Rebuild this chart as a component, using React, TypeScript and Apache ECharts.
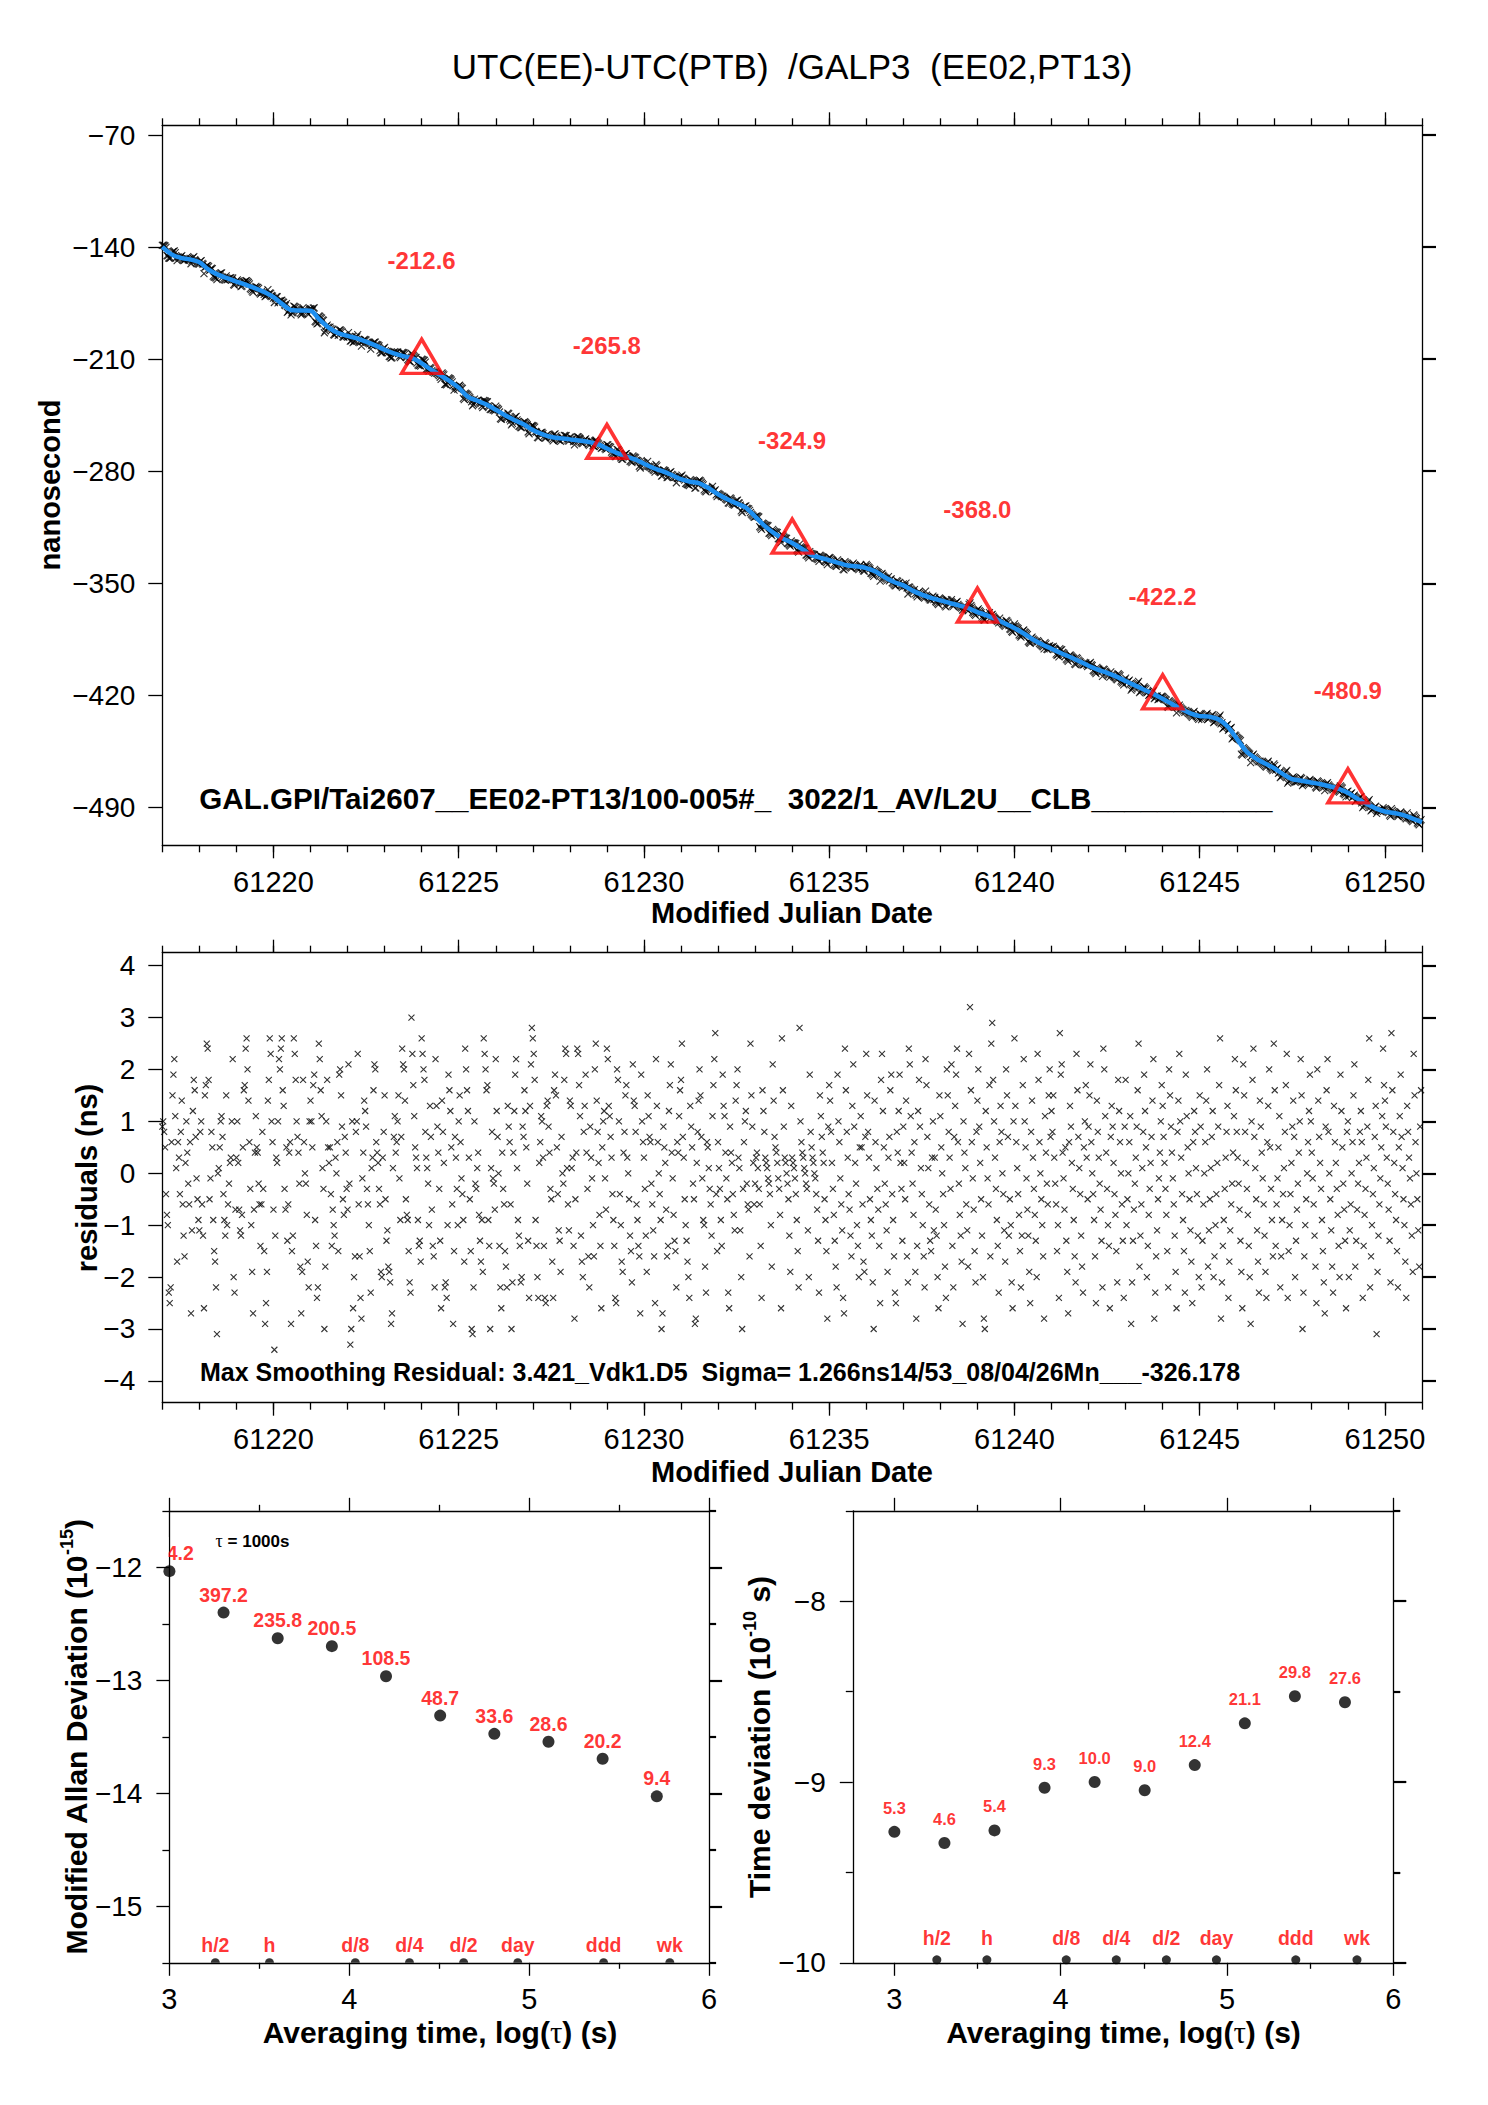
import React, { useEffect, useRef } from 'react';
import * as echarts from 'echarts';

const FONT = "'Liberation Sans', Arial, Helvetica, sans-serif";
const SERIF = "'Liberation Serif', 'DejaVu Serif', serif";

// ---------- Top panel: clock difference (ns) ----------
const MJD_START = 61217;
const MJD_END = 61251;
const SMOOTH_STEP = 0.25; // days between smoothed samples
const smoothNs = [
  -139.8, -144.5, -146.7, -147.7, -149.5, -154.0, -157.2, -159.4, -161.5, -163.5,
  -165.6, -168.0, -171.2, -175.8, -179.5, -179.6, -179.8, -185.5, -190.5, -193.7,
  -195.5, -197.0, -199.0, -201.4, -204.1, -206.4, -208.1, -209.4, -212.6, -216.5,
  -220.0, -223.6, -227.8, -233.6, -236.0, -238.3, -241.6, -245.0, -248.0, -250.7,
  -254.2, -256.8, -258.6, -259.4, -260.1, -260.8, -261.7, -263.1, -265.8, -268.4,
  -270.7, -272.5, -275.3, -278.0, -280.0, -282.4, -285.0, -286.6, -287.6, -290.6,
  -294.4, -297.5, -300.1, -302.8, -308.3, -314.0, -318.5, -322.0, -324.9, -328.3,
  -332.1, -334.0, -335.6, -337.3, -338.9, -339.5, -340.5, -342.7, -346.2, -349.2,
  -351.3, -354.6, -357.1, -359.1, -360.7, -362.3, -363.8, -365.5, -368.0, -370.0,
  -372.4, -375.2, -378.0, -381.4, -385.1, -388.2, -390.9, -393.6, -396.1, -398.7,
  -401.5, -404.0, -406.0, -408.3, -411.1, -413.8, -416.5, -419.2, -422.2, -425.4,
  -428.4, -431.3, -433.0, -433.3, -435.0, -439.5, -447.0, -454.8, -459.2, -462.5,
  -465.4, -469.2, -472.4, -473.4, -474.5, -475.4, -476.8, -478.5, -480.9, -484.5,
  -487.8, -490.6, -492.6, -493.5, -494.8, -497.0, -499.2,
];
const triangleMjd = [61224, 61229, 61234, 61239, 61244, 61249];
const triangleNs = [-212.6, -265.8, -324.9, -368.0, -422.2, -480.9];
const topYTicks = [-490, -420, -350, -280, -210, -140, -70];
const mjdLabelTicks = [61220, 61225, 61230, 61235, 61240, 61245, 61250];

// ---------- Residuals (ns), 40 samples per day ----------
const RES_PER_DAY = 40;
const res17to21 = [
  0.9,1.0,0.8,0.5,-0.4,-0.8,-1.0,-2.3,-2.5,-2.2,0.6,1.5,1.9,2.2,1.1,0.1,-1.7,0.6,0.3,-0.4,
  0.8,1.4,-0.6,-1.2,-1.6,0.2,1.0,0.4,-0.2,-0.6,0.6,-2.7,-1.1,1.2,1.8,1.6,0.7,-0.1,-0.5,-0.9,
  -1.1,0.8,1.0,-0.6,-1.2,-2.6,1.5,1.7,2.5,2.4,1.8,-0.5,-0.1,0.8,0.5,-0.9,-1.5,-1.7,-2.2,-3.1,
  0.0,0.1,0.5,1.0,1.1,0.7,-0.4,-0.9,-1.2,1.5,-1.0,-0.6,-0.2,0.2,0.3,1.0,2.2,-2.0,-2.3,-0.7,
  0.3,1.0,0.2,-0.7,-1.1,-1.2,-0.8,0.5,1.6,1.7,2.4,2.6,2.0,1.4,0.6,-0.3,-1.0,-1.9,-2.7,-0.7,
  0.4,1.1,0.5,0.4,-0.2,-0.6,-1.4,-0.6,0.8,-0.3,-1.5,-2.9,-2.5,-1.9,1.4,1.8,2.6,2.3,1.0,0.6,
  -0.7,-3.4,-1.2,0.3,0.2,1.0,2.2,2.0,2.4,2.6,1.6,1.3,-0.3,-0.7,0.5,-1.3,-0.6,0.4,0.6,-2.9,
  -1.5,-1.2,2.6,2.3,1.8,1.0,0.7,0.4,-0.2,-1.8,-2.7,-1.9,1.8,0.6,0.0,-0.2,-0.8,-1.7,-2.2,1.0,
  1.4,1.0,0.5,1.7,1.9,-0.9,-1.4,-2.4,-2.2,2.5,2.2,1.6,1.1,0.1,-0.3,-3.0,-1.8,1.0,1.8,0.5,
  0.2,0.5,-0.4,-1.4,-0.7,-1.0,-1.2,0.3,0.0,0.6,-1.5,1.9,2.0,1.5,0.9,-0.5,-0.8,0.7,0.4,-0.3,
];
const res22to26 = [
  -0.7,2.1,-0.2,-3.3,-3.0,1.0,-2.6,-2.0,-1.6,0.8,1.0,2.3,-0.6,-1.6,-2.4,-2.8,-0.1,0.4,1.4,1.2,
  0.9,-0.3,-0.6,-1.0,-1.5,-2.3,0.1,0.3,1.6,2.1,2.0,0.6,0.4,0.2,-0.3,-0.6,-1.9,-2.0,0.3,0.8,
  1.5,-0.5,-1.3,-1.1,-1.8,-1.9,-2.1,-2.9,-2.7,0.1,0.7,1.1,0.4,0.6,1.0,1.5,-0.1,-0.9,0.7,2.4,
  2.1,2.0,1.4,-0.5,-0.8,-0.9,-1.5,-2.1,-2.3,3.0,2.3,1.7,1.1,0.5,0.3,0.1,-0.9,-1.4,-1.3,-1.7,
  2.6,2.3,2.0,1.8,0.8,0.3,0.1,-0.2,-1.0,1.3,0.7,-0.7,-1.4,-1.6,-2.2,2.2,1.3,0.9,0.4,-0.3,
  -1.3,-2.6,1.4,0.8,0.2,-2.2,-2.1,-2.4,-1.0,1.9,1.6,1.2,0.5,-0.6,-2.9,-1.5,0.7,0.3,-0.3,-1.0,
  1.0,1.5,0.6,-0.1,-0.4,-0.9,-1.7,2.4,2.0,1.6,1.2,0.3,-0.5,-1.5,-3.0,-3.1,-2.2,1.0,-0.2,-0.3,
  0.1,0.4,-0.8,-1.3,-1.7,-0.9,-1.9,2.6,2.3,2.0,1.6,1.7,-0.9,-1.4,-3.0,0.1,0.8,-0.1,-0.2,-0.7,
  2.2,1.2,0.7,0.0,-1.4,-2.2,-2.6,0.4,-0.3,-0.6,-1.5,-1.8,-2.2,1.3,0.9,0.6,-0.6,-3.0,-2.1,0.4,
  1.2,1.9,2.2,0.1,-0.9,-1.2,-1.4,-2.1,-2.0,0.9,0.7,1.6,1.2,0.5,-0.2,-1.3,-2.4,1.3,2.1,2.8,
];
const res27to31 = [
  2.6,2.3,1.8,-0.9,-1.4,-2.0,-2.4,0.2,0.6,1.1,1.0,0.3,-1.4,-2.4,-2.5,1.3,1.4,0.9,0.4,-0.3,
  -0.5,-1.7,-2.4,1.6,1.9,1.5,0.5,-0.4,-1.1,-1.3,-1.9,0.7,0.0,-0.2,1.8,2.4,2.3,0.1,-0.6,-1.1,
  1.4,1.3,0.1,0.3,-1.4,-2.8,-0.5,0.4,2.4,2.3,1.7,1.1,-1.2,-1.7,-2.0,0.8,1.3,1.9,0.4,-0.3,
  -1.6,-2.2,0.9,0.3,-0.1,-1.0,-1.6,2.0,2.5,1.4,0.8,0.2,-0.8,-1.4,-2.6,0.5,1.0,1.2,-0.1,-0.7,
  2.4,2.2,1.3,1.1,0.7,0.3,-0.4,-0.9,-1.4,-2.4,-2.5,2.0,1.8,1.0,-0.4,-1.0,-1.7,-1.9,0.4,0.8,
  1.5,1.7,0.3,0.0,-0.5,-1.2,-1.5,-2.1,2.1,1.4,1.3,0.8,-0.6,-0.9,-1.4,-1.6,-2.7,1.9,1.0,0.6,
  0.3,-0.3,-1.2,-1.9,1.5,1.1,0.7,0.6,-0.2,-0.6,-1.1,-1.6,-2.5,2.2,1.3,0.6,0.0,-0.4,-0.9,-3.0,
  -2.7,0.9,0.5,0.2,-0.7,-1.6,-1.4,1.2,1.7,2.1,0.4,-0.1,-0.8,-1.3,-1.5,-2.2,0.6,0.4,1.1,1.6,
  1.8,2.5,0.7,0.3,-0.5,-1.0,-1.3,-1.7,-2.0,-2.4,1.3,0.9,0.5,-0.2,-0.5,-2.9,-2.8,0.2,0.8,1.4,
  2.0,1.5,0.7,-0.1,-0.9,-1.0,-1.8,-2.3,0.6,0.5,0.1,-0.3,-0.6,-1.2,1.1,1.7,2.2,2.7,-0.4,-1.5,
];
const res32to36 = [
  0.6,0.1,-0.3,-0.9,-1.4,1.9,1.3,1.1,0.4,-0.1,-0.5,-2.3,-2.6,0.9,0.4,0.2,-0.4,-0.8,-1.1,1.4,
  1.7,2.0,0.3,0.1,-1.1,-2.0,-3.0,-0.3,0.6,1.0,1.2,-0.2,-0.6,-0.7,-1.6,2.5,1.5,0.9,0.2,-0.6,
  -0.2,0.3,0.4,0.1,-0.3,-0.6,-1.4,-2.4,1.6,1.2,0.8,0.3,0.2,0.1,-0.1,-0.2,-0.4,-1.0,-1.8,2.1,
  1.4,0.7,0.5,0.4,0.2,-0.1,-0.3,-0.8,-2.6,2.6,1.6,0.9,0.3,0.2,0.0,-0.2,-0.5,-1.2,-1.9,1.3,
  0.3,0.2,0.1,-0.1,-0.4,-0.9,-1.5,-2.2,2.8,1.0,0.6,0.4,0.3,0.1,0.0,-0.2,-0.3,-1.1,-2.0,1.9,
  0.8,0.5,0.3,0.2,0.0,-0.1,-0.4,-0.7,-1.3,-2.3,1.5,1.1,0.7,0.4,0.2,-0.5,-0.9,-1.5,-2.8,0.9,
  1.7,1.4,0.8,0.2,-0.3,-0.8,-1.3,-1.8,-2.2,1.9,1.0,0.6,-0.1,-0.6,-1.1,-2.4,-2.7,2.4,1.6,0.8,
  0.3,-0.4,-0.7,-1.2,-1.6,1.3,2.1,0.9,0.2,-0.2,-1.0,-1.4,-2.0,0.5,1.1,0.5,-0.6,-1.7,-1.9,0.7,
  2.3,1.5,0.8,0.3,-0.5,-0.9,-1.2,-2.1,-3.0,1.4,0.6,0.1,-0.3,-0.7,-1.4,-2.5,1.8,2.3,1.2,0.5,
  -0.2,-0.6,-1.1,-1.9,0.3,0.7,1.6,1.9,-0.4,-0.9,-1.6,-2.3,-2.5,0.8,0.4,1.2,1.9,0.2,-0.3,-1.3,
];
const res37to41 = [
  0.9,0.2,-0.5,1.4,-1.6,-2.1,2.4,2.1,1.1,0.4,-0.2,-0.8,0.6,-1.9,-2.8,-1.4,1.2,1.8,0.9,0.1,
  -0.4,-1.0,-1.6,-2.2,2.2,1.7,0.7,0.1,-0.6,-1.3,-1.5,0.3,1.0,-1.1,0.3,-0.7,-1.2,-2.0,-2.6,1.5,
  1.1,0.5,0.0,-0.4,-1.0,-1.8,-2.4,2.0,1.5,0.8,0.3,-0.3,2.1,-1.4,-2.2,0.7,1.3,1.9,2.4,0.6,
  -0.2,-0.8,-1.2,-1.7,-2.9,1.0,0.4,0.1,-0.6,-1.1,-1.8,2.3,3.2,1.6,0.6,-0.1,-0.7,-1.5,-2.1,0.8,
  1.4,2.0,0.9,0.2,-0.5,-1.2,-2.0,-2.8,-3.0,1.2,0.5,-0.1,-0.6,1.7,-1.6,2.5,2.9,1.8,1.0,0.3,
  -0.3,-0.9,-1.4,-2.3,0.6,1.3,0.8,0.0,-0.4,-1.1,-1.7,2.0,1.5,0.7,-1.2,-0.5,-1.0,-2.1,-2.6,1.0,
  2.6,1.3,0.6,0.1,-0.4,-0.8,-1.5,-2.2,-1.2,1.7,2.2,1.0,0.5,-0.1,-0.7,-1.2,-1.9,-2.5,0.8,1.4,
  0.3,-0.3,-0.8,-1.3,-2.0,2.3,1.8,0.6,0.0,-0.5,-1.0,-1.6,-2.8,1.1,0.4,-0.2,-0.6,1.5,2.0,0.7,
  1.2,0.8,1.5,0.3,-0.2,-0.6,-1.5,-1.0,-2.4,2.7,1.9,2.1,0.4,-0.1,-0.7,0.5,-1.3,-1.9,-2.7,0.6,
  1.3,0.9,0.2,-0.3,-0.9,-1.6,-2.1,2.3,1.6,0.7,0.1,-0.4,-1.2,-1.8,-2.3,0.5,1.0,1.7,0.3,-0.5,
];
const res42to46 = [
  0.9,1.5,2.1,0.6,0.0,-0.4,-0.9,-1.6,-2.5,1.4,0.8,0.3,-0.2,-0.7,-1.3,-2.2,2.4,2.0,1.1,0.4,
  -0.3,-1.0,-1.4,-2.6,0.7,1.3,0.9,0.2,-0.4,-0.8,-1.5,-2.1,1.8,1.2,0.6,0.0,-0.6,-1.3,-2.4,0.9,
  1.8,-1.0,-0.5,0.0,0.6,1.1,-2.9,-2.1,-1.3,-0.7,-0.2,0.3,0.9,1.6,2.5,-1.8,-1.2,-0.6,0.1,0.8,
  1.9,1.2,0.5,-2.0,-1.4,-0.8,-0.3,0.2,0.7,1.4,2.2,-2.8,-2.3,-1.6,-1.1,-0.5,-0.1,0.4,1.0,1.7,
  1.3,0.7,0.2,-0.3,-0.8,-1.5,-2.2,2.0,1.5,0.9,0.4,-0.1,-0.6,-1.2,-1.9,-2.6,0.8,1.4,2.3,1.0,
  0.3,-0.4,-0.9,-1.5,-2.3,1.9,1.1,0.5,0.0,-0.5,-1.1,-1.7,-2.5,0.6,1.2,0.8,0.1,-0.4,-1.2,-2.0,
  1.5,0.9,-2.2,-1.3,-0.6,0.0,0.6,1.4,2.0,-1.8,-1.1,-0.5,0.1,0.7,1.2,-2.0,-1.6,-1.0,-0.4,0.2,
  0.9,1.7,2.6,-2.8,-2.1,-1.4,-0.9,-0.3,0.3,0.8,1.3,-2.4,-1.7,-1.1,-0.6,-0.2,0.4,1.1,2.2,1.6,
  0.8,0.3,-0.2,-0.7,-1.3,-1.9,-2.6,2.1,1.5,0.8,0.2,-0.3,-0.8,-1.4,-2.0,-2.9,1.0,1.8,2.4,0.7,
  0.1,-0.5,-1.1,-1.7,-2.3,1.4,0.9,0.4,-0.1,-0.6,-1.2,-1.9,-2.4,0.6,1.3,2.0,0.5,-0.3,-0.9,-1.6,
];
const res47to50 = [
  2.5,1.6,-1.4,-0.6,-0.1,0.5,1.1,-2.2,-1.6,-0.9,-0.4,0.1,0.8,1.7,2.3,-2.4,-1.5,-1.0,-0.4,0.2,
  0.9,1.4,0.7,-2.0,-1.3,-0.7,-0.2,0.4,1.0,2.2,1.5,-3.0,-2.3,-1.6,-1.0,-0.5,0.0,0.6,1.2,1.9,
  1.0,0.4,-0.1,-0.6,-1.2,-1.8,-2.5,2.0,1.4,0.7,0.2,-0.3,-0.9,-1.5,-2.1,-2.7,0.9,1.6,2.2,0.8,
  0.0,-0.5,-1.1,-1.8,-2.3,1.3,0.6,0.2,-0.3,-0.8,-1.4,-2.0,1.9,1.2,0.5,-0.2,-0.7,-1.3,-2.6,0.8,
  1.0,-2.0,-1.1,-0.6,0.0,0.6,1.5,2.1,-1.8,-1.3,-0.7,-0.2,0.2,0.8,1.2,0.6,-2.4,-1.4,-0.8,-0.3,
  0.3,0.9,1.8,2.6,-2.2,-1.6,-1.0,-0.4,0.1,0.7,1.3,-3.1,-1.9,-1.2,-0.6,-0.1,0.5,1.1,2.4,1.7,
  1.4,0.9,0.3,-0.2,-0.7,-1.3,-2.1,2.7,1.6,0.8,0.2,-0.4,-0.9,-1.5,-2.2,0.5,1.1,1.9,0.7,0.1,
  -0.5,-1.0,-1.7,-2.4,1.3,0.8,0.3,-0.1,-0.6,-1.2,-1.9,2.3,1.5,0.6,0.0,-0.5,-1.1,-1.8,0.9,1.6,
];
const resYTicks = [-4, -3, -2, -1, 0, 1, 2, 3, 4];

// ---------- Stability panels ----------
const tauSeconds = [1000, 2000, 4000, 8000, 16000, 32000, 64000, 128000, 256000, 512000];
const mdevE15 = [924.2, 397.2, 235.8, 200.5, 108.5, 48.7, 33.6, 28.6, 20.2, 9.4];
const tdevE10 = [5.3, 4.6, 5.4, 9.3, 10.0, 9.0, 12.4, 21.1, 29.8, 27.6];
const markerNames = ['h/2', 'h', 'd/8', 'd/4', 'd/2', 'day', 'ddd', 'wk'];
const markerSeconds = [1800, 3600, 10800, 21600, 43200, 86400, 259200, 604800];
const tauMajorTicks = [3, 4, 5, 6];
const tauMinorTicks = [3.5, 4.5, 5.5];
const mdevMajorTicks = [-15, -14, -13, -12];
const mdevMinorTicks = [-15.5, -14.5, -13.5, -12.5, -11.5];
const tdevMajorTicks = [-10, -9, -8];
const tdevMinorTicks = [-9.5, -8.5, -7.5];

const TITLE = 'UTC(EE)-UTC(PTB)  /GALP3  (EE02,PT13)';
const TOP_NOTE = 'GAL.GPI/Tai2607__EE02-PT13/100-005#_  3022/1_AV/L2U__CLB___________';
const MID_NOTE = 'Max Smoothing Residual: 3.421_Vdk1.D5  Sigma= 1.266ns14/53_08/04/26Mn___-326.178';

const X_SYMBOL = 'path://M0,0L10,10M0,10L10,0';
const HALF_DOT = 'path://M0,10A10,10,0,0,1,20,10Z';
const RED = '#ff0000';
const BLUE = '#1e8ff0';

function fmtMinus(v: number): string {
  return v < 0 ? '\u2212' + String(Math.abs(v)) : String(v);
}

type Panel = {
  grid: { left: number; top: number; width: number; height: number };
  xmin: number; xmax: number; xMajor: number[]; xMinor: number[];
  ymin: number; ymax: number; yMajor: number[]; yMinor: number[];
  xMinorLen: number; yMajorLen: number; yMinorLen: number;
};

function buildAxes(p: Panel, gi: number) {
  const line = { color: '#000', width: 1.3 };
  const thick = { color: '#000', width: 2.2 };
  const xb = { type: 'value', min: p.xmin, max: p.xmax, splitLine: { show: false } };
  const yb = { type: 'value', min: p.ymin, max: p.ymax, splitLine: { show: false } };
  const xs = [
    { ...xb, gridIndex: gi, position: 'bottom',
      axisLine: { show: true, onZero: false, lineStyle: line },
      axisTick: { show: true, customValues: p.xMajor, length: 13, lineStyle: line },
      axisLabel: { show: true, customValues: p.xMajor, formatter: (v: number) => String(v),
        fontSize: 29, margin: 22, color: '#000', fontFamily: FONT } },
    { ...xb, gridIndex: gi, position: 'top',
      axisLine: { show: true, onZero: false, lineStyle: line },
      axisTick: { show: true, customValues: p.xMajor, length: 13, lineStyle: line },
      axisLabel: { show: false } },
    { ...xb, gridIndex: gi + 1, position: 'bottom',
      axisLine: { show: false, onZero: false },
      axisTick: { show: true, customValues: p.xMinor, length: p.xMinorLen, lineStyle: line },
      axisLabel: { show: false } },
    { ...xb, gridIndex: gi + 1, position: 'top',
      axisLine: { show: false, onZero: false },
      axisTick: { show: true, customValues: p.xMinor, length: p.xMinorLen, lineStyle: line },
      axisLabel: { show: false } },
  ];
  const ys = [
    { ...yb, gridIndex: gi, position: 'left',
      axisLine: { show: true, onZero: false, lineStyle: line },
      axisTick: { show: true, customValues: p.yMajor, length: p.yMajorLen, lineStyle: line },
      axisLabel: { show: true, customValues: p.yMajor, formatter: fmtMinus,
        fontSize: 28, margin: 27, color: '#000', fontFamily: FONT } },
    { ...yb, gridIndex: gi, position: 'right',
      axisLine: { show: true, onZero: false, lineStyle: line },
      axisTick: { show: true, customValues: p.yMajor, length: p.yMajorLen, lineStyle: thick },
      axisLabel: { show: false } },
    { ...yb, gridIndex: gi + 1, position: 'left',
      axisLine: { show: false, onZero: false },
      axisTick: { show: p.yMinor.length > 0, customValues: p.yMinor, length: p.yMinorLen, lineStyle: line },
      axisLabel: { show: false } },
    { ...yb, gridIndex: gi + 1, position: 'right',
      axisLine: { show: false, onZero: false },
      axisTick: { show: p.yMinor.length > 0, customValues: p.yMinor, length: p.yMinorLen, lineStyle: thick },
      axisLabel: { show: false } },
  ];
  return { xs, ys };
}

function dayTicks(): number[] {
  const out: number[] = [];
  for (let d = MJD_START; d <= MJD_END; d++) out.push(d);
  return out;
}

function buildOption() {
  const residuals = [...res17to21, ...res22to26, ...res27to31, ...res32to36, ...res37to41, ...res42to46, ...res47to50];
  const resData = residuals.map((r, j) => [MJD_START + j / RES_PER_DAY, r]);
  const rawTop = residuals.map((r, j) => {
    const t = MJD_START + j / RES_PER_DAY;
    const k = Math.min(smoothNs.length - 1, Math.round((t - MJD_START) / SMOOTH_STEP));
    return [t, smoothNs[k] + r];
  });
  const smoothData = smoothNs.map((v, i) => [MJD_START + i * SMOOTH_STEP, v]);
  const triData = triangleMjd.map((m, i) => [m, triangleNs[i]]);

  const panels: Panel[] = [
    { grid: { left: 162.3, top: 125.3, width: 1259.7, height: 720 },
      xmin: MJD_START, xmax: MJD_END, xMajor: mjdLabelTicks, xMinor: dayTicks(),
      ymin: -513.7, ymax: -63.9, yMajor: topYTicks, yMinor: [],
      xMinorLen: 7, yMajorLen: 14, yMinorLen: 7 },
    { grid: { left: 162.3, top: 952.7, width: 1259.7, height: 450 },
      xmin: MJD_START, xmax: MJD_END, xMajor: mjdLabelTicks, xMinor: dayTicks(),
      ymin: -4.42, ymax: 4.25, yMajor: resYTicks, yMinor: [],
      xMinorLen: 7, yMajorLen: 14, yMinorLen: 7 },
    { grid: { left: 169.4, top: 1510.8, width: 539.7, height: 452 },
      xmin: 3, xmax: 6, xMajor: tauMajorTicks, xMinor: tauMinorTicks,
      ymin: -15.5, ymax: -11.5, yMajor: mdevMajorTicks, yMinor: mdevMinorTicks,
      xMinorLen: 6, yMajorLen: 13, yMinorLen: 7 },
    { grid: { left: 852.8, top: 1510.8, width: 540.5, height: 452 },
      xmin: 2.75, xmax: 6, xMajor: tauMajorTicks, xMinor: tauMinorTicks,
      ymin: -10, ymax: -7.5, yMajor: tdevMajorTicks, yMinor: tdevMinorTicks,
      xMinorLen: 6, yMajorLen: 13, yMinorLen: 7 },
  ];

  const grids: any[] = [];
  const xAxes: any[] = [];
  const yAxes: any[] = [];
  panels.forEach((p, i) => {
    grids.push({ ...p.grid, show: false, containLabel: false });
    grids.push({ ...p.grid, show: false, containLabel: false });
    const { xs, ys } = buildAxes(p, 2 * i);
    xAxes.push(...xs);
    yAxes.push(...ys);
  });

  const xStroke = { color: 'rgba(0,0,0,0)', borderColor: '#000', borderWidth: 1.1 };
  const redBold = (size: number) => ({ color: RED, fontWeight: 'bold', fontSize: size, fontFamily: FONT });

  const mdevData = tauSeconds.map((t, i) => [Math.log10(t), Math.log10(mdevE15[i] * 1e-15), mdevE15[i]]);
  const tdevData = tauSeconds.map((t, i) => [Math.log10(t), Math.log10(tdevE10[i] * 1e-10), tdevE10[i]]);
  const markBL = markerSeconds.map((s, i) => [Math.log10(s), -15.5, markerNames[i]]);
  const markBR = markerSeconds.map((s, i) => [Math.log10(s), -10, markerNames[i]]);

  const series: any[] = [
    { type: 'scatter', xAxisIndex: 0, yAxisIndex: 0, data: rawTop, symbol: X_SYMBOL, symbolSize: 7,
      itemStyle: xStroke, silent: true, z: 2 },
    { type: 'line', xAxisIndex: 0, yAxisIndex: 0, data: smoothData, showSymbol: false, smooth: 0.3,
      lineStyle: { color: BLUE, width: 4.5 }, silent: true, z: 3 },
    { type: 'scatter', xAxisIndex: 0, yAxisIndex: 0, data: triData, symbol: 'triangle', symbolSize: [40, 34],
      symbolOffset: [0, -7], itemStyle: { color: 'rgba(0,0,0,0)', borderColor: RED, borderWidth: 3.5 }, z: 4 },
    { type: 'scatter', xAxisIndex: 0, yAxisIndex: 0, data: triData, symbolSize: 1,
      itemStyle: { color: 'rgba(0,0,0,0)' }, z: 5,
      label: { show: true, position: 'inside', offset: [0, -102.5], ...redBold(24),
        formatter: (p: any) => p.value[1].toFixed(1) } },
    { type: 'scatter', xAxisIndex: 4, yAxisIndex: 4, data: resData, symbol: X_SYMBOL, symbolSize: 6,
      itemStyle: xStroke, silent: true },
    { type: 'scatter', xAxisIndex: 8, yAxisIndex: 8, data: mdevData, symbol: 'circle', symbolSize: 12,
      itemStyle: { color: '#000' }, z: 4,
      label: { show: true, position: 'inside', offset: [0, -18], ...redBold(19.5),
        formatter: (p: any) => p.value[2].toFixed(1) } },
    { type: 'scatter', xAxisIndex: 8, yAxisIndex: 8, data: markBL, symbol: HALF_DOT, symbolSize: [9, 4.5],
      symbolOffset: [0, -2.25], itemStyle: { color: '#000' }, z: 4,
      label: { show: true, position: 'inside', offset: [0, -15.75], ...redBold(19.5),
        formatter: (p: any) => p.value[2] } },
    { type: 'scatter', xAxisIndex: 12, yAxisIndex: 12, data: tdevData, symbol: 'circle', symbolSize: 12,
      itemStyle: { color: '#000' }, z: 4,
      label: { show: true, position: 'inside', offset: [0, -24], ...redBold(16.5),
        formatter: (p: any) => p.value[2].toFixed(1) } },
    { type: 'scatter', xAxisIndex: 12, yAxisIndex: 12, data: markBR, symbol: 'circle', symbolSize: 9,
      symbolOffset: [0, -3], clip: false, itemStyle: { color: '#000' }, z: 4,
      label: { show: true, position: 'inside', offset: [0, -22], ...redBold(19.5),
        formatter: (p: any) => p.value[2] } },
  ];

  const txt = (x: number, y: number, text: string, size: number, weight: string, rotation = 0, align = 'center') => ({
    type: 'text', x, y, rotation, z: 100,
    style: { text, fill: '#000', fontSize: size, fontWeight: weight, fontFamily: FONT,
      align, textAlign: align, verticalAlign: 'middle', textVerticalAlign: 'middle' },
  });
  const richTxt = (x: number, y: number, text: string, rich: any, rotation = 0) => ({
    type: 'text', x, y, rotation, z: 100,
    style: { text, rich, fill: '#000', align: 'center', textAlign: 'center', verticalAlign: 'middle', textVerticalAlign: 'middle' },
  });
  const boldRich = {
    a: { fontSize: 30, fontWeight: 'bold', fontFamily: FONT, fill: '#000', lineHeight: 36 },
    s: { fontSize: 18, fontWeight: 'bold', fontFamily: FONT, fill: '#000', verticalAlign: 'top', lineHeight: 18 },
    t: { fontSize: 31, fontWeight: 'normal', fontFamily: SERIF, fill: '#000', lineHeight: 36 },
  };

  const graphic: any[] = [
    txt(792, 66, TITLE, 35, 'normal'),
    txt(50, 485, 'nanosecond', 29, 'bold', Math.PI / 2),
    txt(792, 913, 'Modified Julian Date', 29, 'bold'),
    txt(199.3, 798.3, TOP_NOTE, 29.6, 'bold', 0, 'left'),
    txt(87, 1178, 'residuals (ns)', 29, 'bold', Math.PI / 2),
    txt(792, 1472, 'Modified Julian Date', 29, 'bold'),
    txt(200, 1371.7, MID_NOTE, 25, 'bold', 0, 'left'),
    richTxt(76, 1737, '{a|Modified Allan Deviation (10}{s|-15}{a|)}', boldRich, Math.PI / 2),
    richTxt(759, 1737, '{a|Time deviation (10}{s|-10}{a| s)}', boldRich, Math.PI / 2),
    richTxt(440, 2032, '{a|Averaging time, log(}{t|\u03c4}{a|) (s)}', boldRich),
    richTxt(1123.5, 2032, '{a|Averaging time, log(}{t|\u03c4}{a|) (s)}', boldRich),
    richTxt(252.5, 1541, '{t|\u03c4}{b| = 1000s}', {
      t: { fontSize: 18, fontFamily: SERIF, fill: '#000' },
      b: { fontSize: 17, fontWeight: 'bold', fontFamily: FONT, fill: '#000' },
    }),
    { type: 'rect', z: 90, shape: { x: 140.5, y: 1537, width: 28, height: 27 }, style: { fill: '#fff' } },
  ];

  return {
    animation: false,
    backgroundColor: '#fff',
    grid: grids,
    xAxis: xAxes,
    yAxis: yAxes,
    series,
    graphic,
  };
}

export default function App() {
  const ref = useRef<HTMLDivElement>(null);
  useEffect(() => {
    document.body.style.margin = '0';
    document.body.style.overflow = 'hidden';
    const chart = echarts.init(ref.current as HTMLDivElement, null, { renderer: 'svg' });
    chart.setOption(buildOption() as any);
    return () => chart.dispose();
  }, []);
  return <div ref={ref} style={{ width: 1488, height: 2105, background: '#fff' }} />;
}
